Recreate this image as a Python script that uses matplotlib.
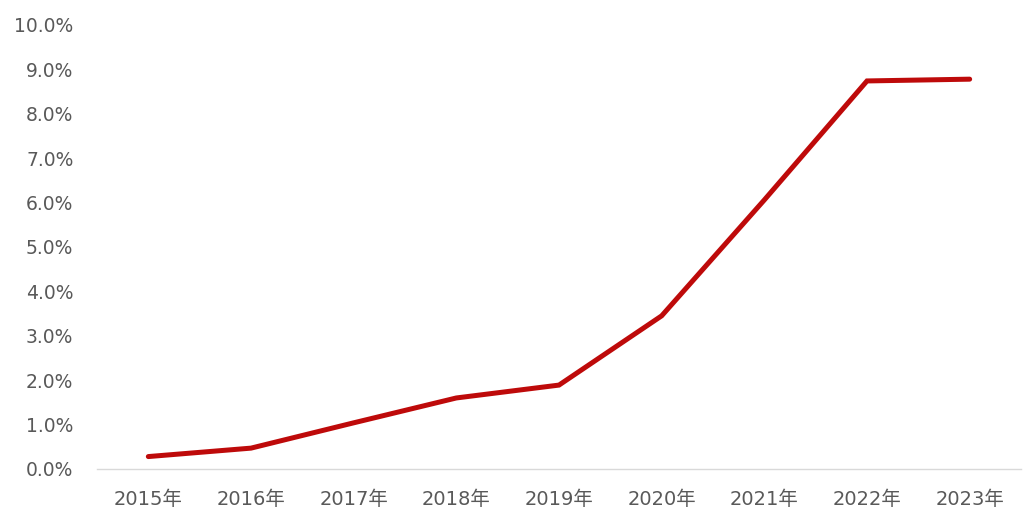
import matplotlib
matplotlib.use("Agg")
import matplotlib.pyplot as plt
from matplotlib.ticker import FuncFormatter

plt.rcParams['font.family'] = ['DejaVu Sans', 'Noto Sans CJK SC']

years = ["2015年", "2016年", "2017年", "2018年", "2019年", "2020年", "2021年", "2022年", "2023年"]
values = [0.28, 0.47, 1.04, 1.60, 1.89, 3.45, 6.06, 8.74, 8.78]
yticks = [0, 1, 2, 3, 4, 5, 6, 7, 8, 9, 10]

fig = plt.figure(figsize=(10.24, 5.26), dpi=100)
ax = fig.add_axes([97/1024, 57/526, (1021-97)/1024, (469-25)/526])

x = list(range(len(years)))
ax.plot(x, values, color="#BE0A0A", linewidth=3.6, solid_capstyle="round", solid_joinstyle="miter")

ax.set_xlim(-0.5, len(years) - 0.5)
ax.set_ylim(0, 10)
ax.set_xticks(x)
ax.set_xticklabels(years)
ax.set_yticks(yticks)
ax.yaxis.set_major_formatter(FuncFormatter(lambda v, p: f"{v:.1f}%"))

for s in ["top", "right", "left"]:
    ax.spines[s].set_visible(False)
ax.spines["bottom"].set_color("#d9d9d9")
ax.spines["bottom"].set_linewidth(1.0)
ax.tick_params(axis="both", length=0, labelsize=13.5, labelcolor="#595959")
ax.tick_params(axis="y", pad=17)
ax.tick_params(axis="x", pad=15)
for lbl in ax.get_xticklabels():
    lbl.set_fontsize(14)

fig.savefig("out.png", dpi=100)
